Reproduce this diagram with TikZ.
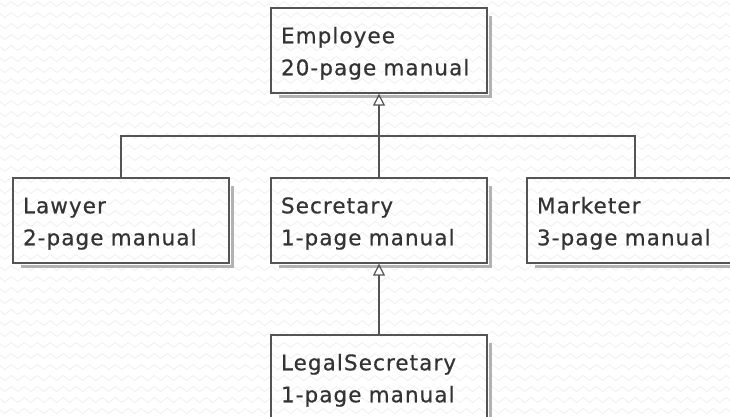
\documentclass[tikz,border=0pt]{standalone}
\usepackage{fontspec}
\setmainfont{DejaVu Sans}[LetterSpace=5, WordSpace=1.4, FakeBold=0.6]
\usetikzlibrary{arrows.meta, decorations.pathmorphing}
\definecolor{ink}{rgb}{0.2,0.2,0.2}
\definecolor{edgegray}{rgb}{0.33,0.33,0.33}
\definecolor{shadegray}{rgb}{0.7,0.7,0.7}
\definecolor{wavegray}{rgb}{0.93,0.93,0.93}
\tikzstyle{cls}   = [draw=edgegray, line width=1.3pt, rectangle, minimum width=216pt, minimum height=85pt,
                     text width=196pt, align=left, inner sep=0pt, text=ink,
                     font=\fontsize{21.5}{32}\selectfont, execute at begin node=\rule{0pt}{22pt}]
\tikzstyle{isa}   = [draw=edgegray, line width=1.2pt, -{Triangle[open, length=12pt, width=12pt]}]
\tikzstyle{link}  = [draw=edgegray, line width=1.2pt]
\tikzstyle{shade} = [draw=shadegray, line width=3pt]
\tikzstyle{wave}  = [draw=wavegray, line width=0.7pt, decorate, decoration={zigzag, segment length=13pt, amplitude=2.5pt}]

\begin{document}
\begin{tikzpicture}[x=1pt, y=-1pt]

\useasboundingbox (0,0) rectangle (730,416);
\clip (0,0) rectangle (730,416);

% background
\foreach \r in {0,...,38}
  \path [wave] (-5,{\r*11+4}) -- (740,{\r*11+4});

% nodes
\node [cls] at (379, 50.5) (employee)  {Employee\\20-page manual};
\node [cls] at (121,220.5) (lawyer)    {Lawyer\\2-page manual};
\node [cls] at (379,220.5) (secretary) {Secretary\\1-page manual};
\node [cls] at (635,220.5) (marketer)  {Marketer\\3-page manual};
\node [cls] at (379,377.5) (legal)     {LegalSecretary\\1-page manual};
\coordinate (hub) at (379,136);

% shadows
\foreach \n in {employee, lawyer, secretary, marketer, legal}
  \path [shade] ([shift={(2.5,9)}]\n.north east) |- ([shift={(9,2.5)}]\n.south west);

% edges
\path [isa]  (secretary) -- (employee);
\path [link] (lawyer.north) |- (hub) -| (marketer.north);
\path [isa]  (legal) -- (secretary);

\end{tikzpicture}
\end{document}
